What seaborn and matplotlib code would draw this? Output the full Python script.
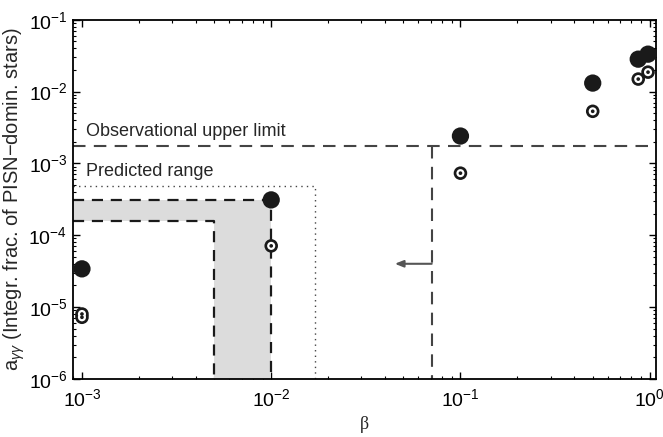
import numpy as np
import matplotlib
matplotlib.use("Agg")
import matplotlib.pyplot as plt
import seaborn as sns

# ── data ──────────────────────────────────────────────────────────────────
beta_full = [0.001, 0.01, 0.1, 0.5, 0.87, 0.98]
a_full    = [3.4e-5, 3.1e-4, 2.4e-3, 1.31e-2, 2.82e-2, 3.31e-2]

beta_ring = [0.001, 0.001, 0.01, 0.1, 0.5, 0.87, 0.98]
a_ring    = [8.0e-6, 7.2e-6, 7.1e-5, 7.3e-4, 5.3e-3, 1.49e-2, 1.86e-2]

obs_limit  = 1.74e-3     # observational upper limit on a
obs_beta   = 0.0705      # corresponding beta
arrow_a    = 4.0e-5
arrow_to   = 0.045

band_hi, band_lo = 3.09e-4, 1.57e-4   # shaded predicted band
band_b_hi, band_b_lo = 0.01, 0.005
dot_a, dot_beta = 4.83e-4, 0.0171     # dotted predicted range

xlim = (0.000896, 1.076)
ylim = (1e-6, 1e-1)

# ── style ─────────────────────────────────────────────────────────────────
sns.set_style("ticks")
plt.rcParams["font.family"] = ["Liberation Sans", "DejaVu Sans"]
plt.rcParams["mathtext.fontset"] = "custom"
plt.rcParams["mathtext.rm"] = "Liberation Sans"
plt.rcParams["mathtext.it"] = "Liberation Sans:italic"
plt.rcParams["mathtext.cal"] = "Liberation Sans"
plt.rcParams["mathtext.sf"] = "Liberation Sans"

fig, ax = plt.subplots(figsize=(6.63, 4.37), dpi=100)
fig.subplots_adjust(left=0.110, right=0.989, top=0.955, bottom=0.133)

ax.set_xscale("log")
ax.set_yscale("log")
ax.set_xlim(*xlim)
ax.set_ylim(*ylim)

# shaded L-shaped predicted band
ax.fill([xlim[0], band_b_lo, band_b_lo, band_b_hi, band_b_hi, xlim[0]],
        [band_lo, band_lo, ylim[0], ylim[0], band_hi, band_hi],
        color="#dcdcdc", lw=0, zorder=1)
ax.plot([xlim[0], band_b_hi, band_b_hi], [band_hi, band_hi, ylim[0]],
        color="#1a1a1a", lw=1.6, dashes=(5, 3.5), zorder=2)
ax.plot([xlim[0], band_b_lo, band_b_lo], [band_lo, band_lo, ylim[0]],
        color="#1a1a1a", lw=1.6, dashes=(5, 3.5), zorder=2)

# dotted predicted range
ax.plot([xlim[0], dot_beta, dot_beta], [dot_a, dot_a, ylim[0]],
        color="#444444", lw=1.0, ls=(0, (1, 3)), zorder=2)

# observational limit
ax.axhline(obs_limit, color="#444444", lw=1.5, dashes=(6, 4), zorder=2)
ax.plot([obs_beta, obs_beta], [obs_limit, ylim[0]],
        color="#444444", lw=1.5, dashes=(6, 4), zorder=2)
ax.annotate("", xy=(arrow_to, arrow_a), xytext=(obs_beta, arrow_a),
            arrowprops=dict(arrowstyle="-|>,head_length=0.5,head_width=0.2",
                            color="#555555", lw=1.5, shrinkA=0, shrinkB=0))

ax.text(xlim[0] * 1.17, obs_limit * 1.2, "Observational upper limit",
        fontsize=13, va="bottom", ha="left")
ax.text(xlim[0] * 1.17, dot_a * 1.2, "Predicted range",
        fontsize=13, va="bottom", ha="left")

# points
sns.scatterplot(x=beta_full, y=a_full, s=155, color="#1a1a1a",
                edgecolor="none", ax=ax, zorder=5)
sns.scatterplot(x=beta_ring, y=a_ring, s=95, color="#1a1a1a",
                edgecolor="none", ax=ax, zorder=6)
sns.scatterplot(x=beta_ring, y=a_ring, s=34, color="white",
                edgecolor="none", ax=ax, zorder=7)
sns.scatterplot(x=beta_ring, y=a_ring, s=7, color="#1a1a1a",
                edgecolor="none", ax=ax, zorder=8)

# axes cosmetics
for sp in ax.spines.values():
    sp.set_visible(True)
    sp.set_linewidth(1.3)
    sp.set_color("black")
ax.tick_params(which="both", direction="in", top=True, right=True,
               colors="black", labelsize=14)
ax.tick_params(axis="y", pad=4)
ax.tick_params(axis="x", pad=7)
ax.tick_params(which="major", length=5, width=1.0)
ax.tick_params(which="minor", length=2.5, width=0.8)
ax.set_xticks([1e-3, 1e-2, 1e-1, 1e0])
ax.set_yticks([1e-6, 1e-5, 1e-4, 1e-3, 1e-2, 1e-1])
ax.grid(False)

ax.set_xlabel("β", fontsize=13, family=["Liberation Serif", "DejaVu Serif"],
              labelpad=4)
ax.set_ylabel(r"a$_{\gamma\gamma}$ (Integr. frac. of PISN$-$domin. stars)",
              fontsize=14.5, labelpad=1)

fig.savefig("out.png", dpi=100)
